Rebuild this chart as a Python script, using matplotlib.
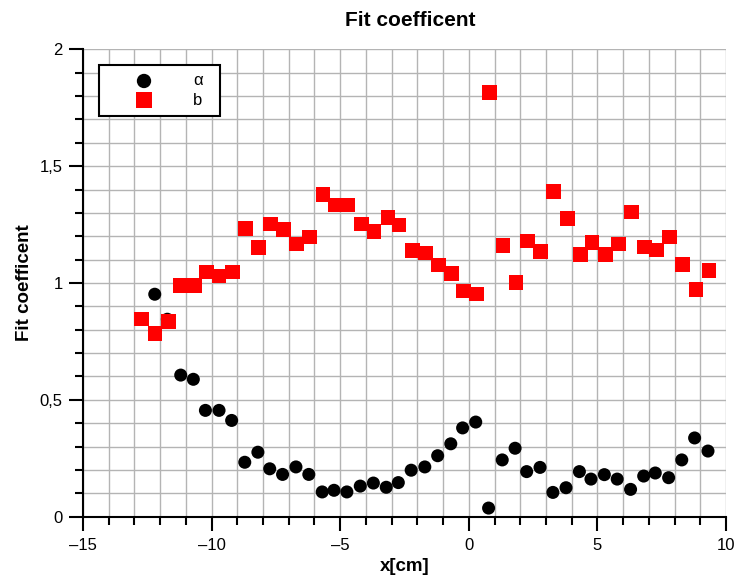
import matplotlib
matplotlib.use("Agg")
import matplotlib.pyplot as plt
from matplotlib.ticker import MultipleLocator, FuncFormatter

plt.rcParams['font.family'] = ['Liberation Sans', 'DejaVu Sans']

# alpha coefficient (black circles)
xa = [-12.21, -11.72, -11.20, -10.71, -10.24, -9.71, -9.22, -8.71, -8.20, -7.74,
      -7.24, -6.72, -6.22, -5.70, -5.24, -4.74, -4.22, -3.71, -3.21, -2.74,
      -2.24, -1.71, -1.21, -0.70, -0.24, 0.27, 0.77, 1.30, 1.80, 2.25,
      2.77, 3.27, 3.78, 4.30, 4.75, 5.27, 5.77, 6.29, 6.80, 7.25,
      7.77, 8.28, 8.78, 9.30]
alpha = [0.952, 0.845, 0.606, 0.588, 0.455, 0.455, 0.412, 0.233, 0.276, 0.205,
         0.181, 0.213, 0.181, 0.106, 0.113, 0.106, 0.131, 0.144, 0.126, 0.146,
         0.199, 0.213, 0.261, 0.312, 0.380, 0.405, 0.037, 0.243, 0.293, 0.193,
         0.211, 0.104, 0.124, 0.193, 0.161, 0.180, 0.161, 0.117, 0.174, 0.187,
         0.167, 0.243, 0.337, 0.281]

# b coefficient (red squares)
xb = [-12.72, -12.20, -11.68, -11.20, -10.67, -10.20, -9.71, -9.18, -8.67, -8.17,
      -7.70, -7.20, -6.69, -6.19, -5.67, -5.19, -4.70, -4.18, -3.69, -3.14,
      -2.71, -2.20, -1.68, -1.17, -0.66, -0.21, 0.31, 0.81, 1.33, 1.84,
      2.29, 2.80, 3.30, 3.83, 4.34, 4.79, 5.31, 5.81, 6.33, 6.84,
      7.29, 7.81, 8.32, 8.83, 9.34]
b = [0.846, 0.785, 0.834, 0.989, 0.989, 1.047, 1.030, 1.047, 1.234, 1.153,
     1.252, 1.230, 1.167, 1.197, 1.378, 1.334, 1.334, 1.252, 1.221, 1.279,
     1.248, 1.140, 1.128, 1.077, 1.041, 0.966, 0.953, 1.816, 1.160, 1.003,
     1.180, 1.134, 1.391, 1.277, 1.123, 1.174, 1.123, 1.167, 1.304, 1.154,
     1.141, 1.197, 1.078, 0.971, 1.053]

fig = plt.figure(figsize=(7.39, 5.83), dpi=100)
ax = fig.add_axes([0.1123, 0.1137, 0.8701, 0.8017])

ax.scatter(xa, alpha, s=88, marker='o', color='black', edgecolors='none', zorder=3, label='α')
ax.scatter(xb, b, s=112, marker='s', color='#ff0000', edgecolors='none', zorder=4, label='b')

ax.set_xlim(-15, 10)
ax.set_ylim(0, 2)
ax.xaxis.set_major_locator(MultipleLocator(5))
ax.xaxis.set_minor_locator(MultipleLocator(1))
ax.yaxis.set_major_locator(MultipleLocator(0.5))
ax.yaxis.set_minor_locator(MultipleLocator(0.1))

ax.xaxis.set_major_formatter(FuncFormatter(lambda v, p: ('%g' % v).replace('-', '\u2013')))
ax.yaxis.set_major_formatter(FuncFormatter(lambda v, p: ('%g' % v).replace('.', ',')))

for s in ['top', 'right']:
    ax.spines[s].set_visible(False)
for s in ['left', 'bottom']:
    ax.spines[s].set_linewidth(1.5)

ax.tick_params(which='major', direction='out', length=10, width=1.5, labelsize=12)
ax.tick_params(which='minor', direction='out', length=5.5, width=1.5)
ax.tick_params(axis='x', which='major', pad=5)
ax.tick_params(axis='y', which='major', pad=4.5)

ax.grid(True, which='both', color='#b4b4b4', linewidth=1.0, zorder=0)
ax.set_axisbelow(True)
# no grid line along the open top and right edges
for t in ax.yaxis.get_major_ticks():
    if abs(t.get_loc() - 2) < 1e-9:
        t.gridline.set_visible(False)
for t in ax.xaxis.get_major_ticks():
    if abs(t.get_loc() - 10) < 1e-9:
        t.gridline.set_visible(False)

ax.set_title('Fit coefficent', fontsize=15, fontweight='bold', pad=17, x=0.509)
ax.set_xlabel('x[cm]', fontsize=13.5, fontweight='bold', labelpad=4)
ax.set_ylabel('Fit coefficent', fontsize=13.5, fontweight='bold', labelpad=5)

leg = ax.legend(loc='upper left', bbox_to_anchor=(0.0249, 0.0, 0.1882, 0.9664),
                mode='expand', borderaxespad=0, fontsize=12, frameon=True,
                fancybox=False, edgecolor='black', framealpha=1,
                borderpad=0.5, handlelength=4.4, handletextpad=0.75,
                labelspacing=0.25, markerscale=1.1)
leg.get_frame().set_linewidth(1.5)

fig.savefig('out.png', dpi=100)
